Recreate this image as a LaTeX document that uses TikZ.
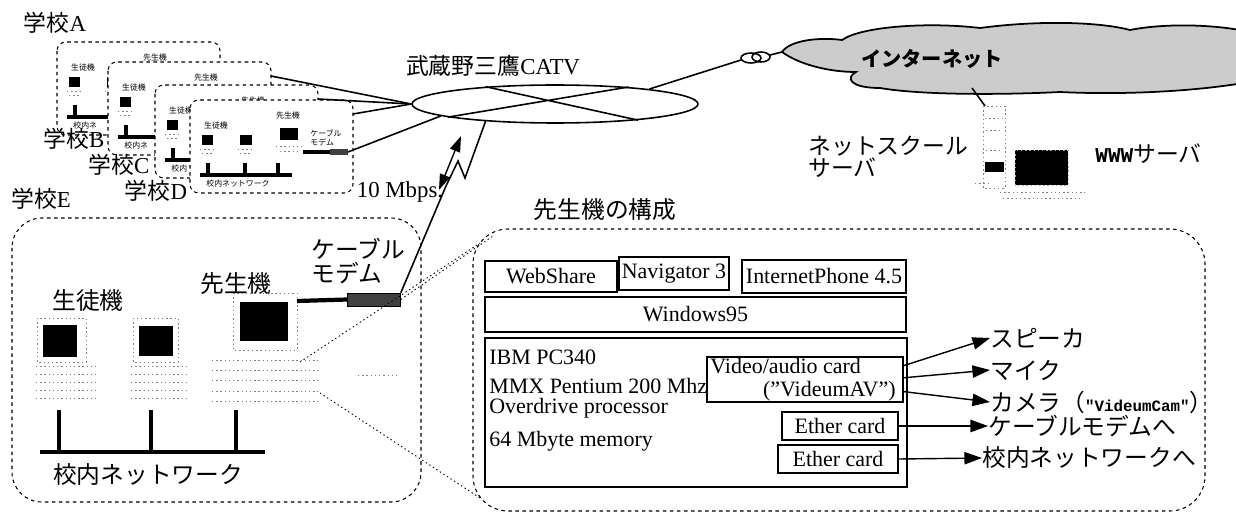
\documentclass[tikz,border=0pt]{standalone}
\usepackage{fontspec}
\setmainfont{Liberation Serif}
\newfontfamily\jpfont{Noto Sans CJK JP}
\newfontfamily\monofont{Liberation Mono}
\usetikzlibrary{shapes.geometric,arrows.meta}

\tikzset{
  dashedge/.style={dash pattern=on 2pt off 2pt, line width=0.6pt},
  dotline/.style={dash pattern=on 0.8pt off 1.6pt, line width=0.5pt},
  wire/.style={line width=0.9pt},
  netbar/.style={line width=2.8pt},
  jplabel/.style={font=\jpfont\fontsize{13.5}{13.5}\selectfont, inner sep=0pt},
  schoollabel/.style={font=\fontsize{13}{13}\selectfont, inner sep=0pt},
  tinylabel/.style={font=\jpfont\fontsize{4.5}{5}\selectfont, inner sep=0pt},
  card/.style={draw, line width=0.8pt, inner sep=0pt},
  outarrow/.style={line width=0.8pt, -{Triangle[length=10pt,width=7pt]}},
  % one small school network, origin at the top left corner,
  % #1 = the part of the LAN name left in view
  pics/school/.style={code={
    \draw[dashedge, fill=white, rounded corners=5pt] (0,0) rectangle (163,93);
    \node[tinylabel] at (26,25) {生徒機};
    \node[tinylabel] at (98,16) {先生機};
    \node[tinylabel, anchor=west] at (16,84) {#1};
    \fill (12,35) rectangle (23,45);
    \fill (50,35) rectangle (62,45);
    \fill (90,28) rectangle (108,40);
    \draw[dotline, gray] (10,49) -- (26,49) (48,49) -- (64,49) (86,46) -- (112,46)
      (12,53) -- (24,53) (50,53) -- (62,53) (90,51) -- (110,51);
    \draw[line width=1.8pt] (18,63) -- (18,75) (55,63) -- (55,75) (88,63) -- (88,75);
    \draw[line width=2.2pt] (10,75) -- (102,75);
    \draw[line width=1.8pt] (113,52) -- (141,52);
    \fill[black!75] (140,49) rectangle (158,55);
    \coordinate (-modem) at (158,52);
    \coordinate (-mlabel) at (136,38);
    \coordinate (-port) at (163,14);
  }}
}

\begin{document}
\begin{tikzpicture}[x=0.02cm, y=-0.02cm, font=\fontsize{12.5}{14}\selectfont]
  \useasboundingbox (0,0) rectangle (1236,513);
  \clip (0,0) rectangle (1236,513);

  % the schools A to D, back to front
  \pic (pA) at (57,42) {school={校内ネ}};
  \pic (pB) at (108,62) {school={校内ネ}};
  \pic (pC) at (155,85) {school={校内}};
  \pic (pD) at (190,100) {school={校内ネットワーク}};
  \node[tinylabel, align=left] (pDmodemname) at (pD-mlabel) {ケーブル\\モデム};
  \node[schoollabel] (schA) at (55,23) {{\jpfont 学校}A};
  \node[schoollabel] (schB) at (74,139) {{\jpfont 学校}B};
  \node[schoollabel] (schC) at (119,165) {{\jpfont 学校}C};
  \node[schoollabel] (schD) at (156,191) {{\jpfont 学校}D};
  \node[schoollabel] (schE) at (41,199) {{\jpfont 学校}E};

  % CATV ring
  \node[draw, ellipse, line width=0.9pt, minimum width=5.72cm, minimum height=0.76cm,
        inner sep=0pt] (catv) at (555,104) {};
  \draw[wire] (catv.166) -- (catv.-11) (catv.187) -- (catv.13);
  \node[schoollabel] (catvname) at (493,66) {{\jpfont 武蔵野三鷹}CATV};
  \draw[wire] (pB-port) -- (catv.west);
  \draw[wire] (pC-port) -- (catv.west);
  \draw[wire] (pD-port) -- (catv.west);
  \draw[wire] (pD-modem) -- (catv.186);

  % internet cloud
  \coordinate (cloudtip) at (782,52);
  \coordinate (cloudfoot) at (972,88);
  \draw[line width=1pt, fill=gray!40] (cloudtip)
    .. controls (790,40) and (820,37) .. (842,40)
    .. controls (862,26) and (930,22) .. (980,28)
    .. controls (1040,20) and (1100,22) .. (1130,30)
    .. controls (1170,22) and (1230,25) .. (1260,35)
    -- (1260,80)
    .. controls (1200,92) and (1120,95) .. (1060,92)
    .. controls (1000,95) and (920,95) .. (880,88)
    .. controls (850,88) and (845,78) .. (856,72)
    .. controls (830,72) and (800,65) .. (cloudtip);
  \node[font=\jpfont\bfseries\fontsize{11.5}{12}\selectfont, inner sep=0pt] (inet) at (932,59) {インターネット};

  % link from the ring to the cloud
  \coordinate (loopL) at (741,60);
  \coordinate (loopR) at (770,55);
  \draw[wire] (catv.9) -- (loopL);
  \draw[wire] (751,58) ellipse [x radius=10, y radius=5];
  \draw[wire] (761,57) ellipse [x radius=9, y radius=5];
  \draw[wire] (loopR) -- (cloudtip);

  % net school server
  \coordinate (srvtop) at (985,106);
  \draw[wire] (cloudfoot) -- (srvtop);
  \draw[dotline, gray] (983,106) rectangle (1005,188);
  \draw[dotline, gray] (985,118) -- (1003,118) (986,130) -- (1002,130) (986,150) -- (1002,150);
  \fill (985,162) rectangle (1004,172);
  \draw[dotline, gray!70, fill=black] (1015,150) rectangle (1068,185);
  \draw[dotline, gray] (975,183) -- (990,183) (1000,192) -- (1085,192) (1003,198) -- (1082,198);
  \node[jplabel, align=left, anchor=west, font=\jpfont\fontsize{13}{12.5}\selectfont]
    (srvname) at (808,157) {ネットスクール\\サーバ};
  \node[inner sep=0pt, anchor=west] (www) at (1095,154)
    {{\monofont\bfseries\fontsize{12}{12}\selectfont WWW}{\jpfont\fontsize{13}{13}\selectfont サーバ}};

  % school E
  \draw[dashedge, rounded corners=17pt] (12,218) rectangle (421,502);
  \node[jplabel] (students) at (88,300) {生徒機};
  \node[jplabel] (teacher) at (236,284) {先生機};
  \node[jplabel] (lan) at (148,475) {校内ネットワーク};
  \node[jplabel, align=left, anchor=west] (modemname) at (311,261) {ケーブル\\モデム};
  % student and teacher machines
  \draw[dotline, gray] (37,318) rectangle (86,362) (133,318) rectangle (178,362) (233,293) rectangle (297,350);
  \fill (43,325) rectangle (77,357);
  \fill (139,326) rectangle (173,356);
  \fill (240,302) rectangle (288,341);
  \foreach \k in {0,8,16,24,32} {
    \draw[dotline, gray] (36,366+\k) -- (96,366+\k);
    \draw[dotline, gray] (131,366+\k) -- (188,366+\k);
    \draw[dotline, gray] (212,360+\k*1.3) -- (318,360+\k*1.3);
  }
  \draw[dotline, gray] (358,375) -- (400,375);
  \draw[netbar] (59,410) -- (59,452) (151,410) -- (151,452) (236,410) -- (236,452);
  \draw[netbar] (40,452) -- (265,452);
  \node[draw, fill=black!75, minimum width=1.06cm, minimum height=0.26cm, inner sep=0pt]
    (modem) at (374,299.5) {};
  \draw[line width=2.4pt] (297,301) -- (modem.west);

  % cable modem link to the ring
  \coordinate (boltA) at (465,178);
  \coordinate (boltB) at (458,161);
  \coordinate (boltC) at (446,186);
  \draw[wire] (catv.194) -- (boltA) -- (boltB) -- (boltC) -- (modem.north east);
  \coordinate (radioLo) at (439,190);
  \coordinate (radioHi) at (461,136);
  \draw[line width=0.8pt, {Triangle[length=9pt,width=6pt]}-{Triangle[length=9pt,width=6pt]}]
    (radioLo) -- (radioHi);
  \node[inner sep=0pt, font=\fontsize{13}{13}\selectfont] (speed) at (400,192) {10 Mbps.};

  % teacher machine detail
  \draw[dashedge, rounded corners=20pt] (473,229) rectangle (1205,511);
  \node[jplabel] (cfgtitle) at (605,210) {先生機の構成};
  \coordinate (cfgA) at (480,243);
  \coordinate (cfgB) at (493,236);
  \coordinate (cfgC) at (480,498);
  \draw[dotline] (300,362) -- (cfgA);
  \draw[dotline] (modem.east) -- (cfgB);
  \draw[dotline] (320,393) -- (cfgC);

  \node[card, minimum width=2.64cm, minimum height=0.62cm] (webshare) at (551,276.5) {WebShare};
  \node[card, minimum width=2.2cm, minimum height=0.66cm] (navi) at (674,273.5) {Navigator 3};
  \node[card, minimum width=3.28cm, minimum height=0.66cm] (iphone) at (824,276.5) {InternetPhone 4.5};
  \node[card, minimum width=8.42cm, minimum height=0.7cm] (win) at (695.5,314.5) {Windows95};
  \node[card, minimum width=8.44cm, minimum height=2.98cm] (hw) at (696,412.5) {};
  \node[anchor=west, inner sep=0pt] (cpu1) at (489,357) {IBM PC340};
  \node[anchor=west, inner sep=0pt] (cpu2) at (489,386) {MMX Pentium 200 Mhz};
  \node[anchor=west, inner sep=0pt] (cpu3) at (489,408) {Overdrive processor};
  \node[anchor=west, inner sep=0pt] (mem) at (489,441) {64 Mbyte memory};
  \node[card, fill=white, minimum width=3.92cm, minimum height=0.9cm] (avcard) at (805,379.5) {};
  \node[inner sep=0pt, align=left, font=\fontsize{12.5}{13}\selectfont] (avtext) at (803,379.5)
    {Video/audio card\\\hspace*{30pt}("VideumAV")};
  \node[card, minimum width=2.32cm, minimum height=0.56cm] (ether1) at (840,426) {Ether card};
  \node[card, minimum width=2.4cm, minimum height=0.56cm] (ether2) at (838,459) {Ether card};

  % outputs of the cards
  \node[jplabel, anchor=west] (spk) at (990,338) {スピーカ};
  \node[jplabel, anchor=west] (mic) at (990,370) {マイク};
  \node[jplabel, anchor=west] (cam) at (990,402)
    {カメラ（{\monofont\bfseries\fontsize{9}{10}\selectfont "VideumCam"}）};
  \node[jplabel, anchor=west] (tomodem) at (988,426) {ケーブルモデムへ};
  \node[jplabel, anchor=west] (tolan) at (982,458) {校内ネットワークへ};
  \draw[outarrow] (avcard.8) -- (spk.west);
  \draw[outarrow] (avcard.1) -- (mic.west);
  \draw[outarrow] (avcard.-7) -- (cam.west);
  \draw[outarrow] (ether1.east) -- (tomodem.west);
  \draw[outarrow] (ether2.east) -- (tolan.west);
\end{tikzpicture}
\end{document}
